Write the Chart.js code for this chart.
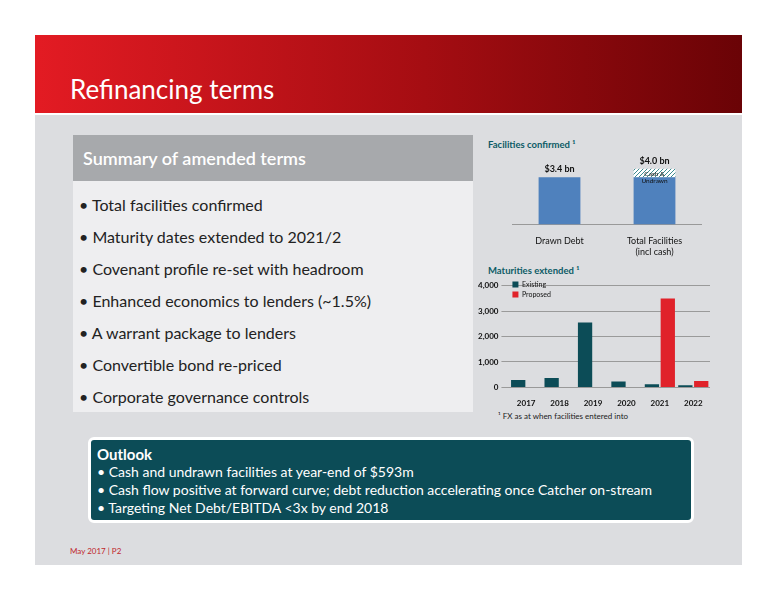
<!DOCTYPE html>
<html><head><meta charset="utf-8">
<script src="https://cdn.jsdelivr.net/npm/chart.js@4"></script>
<style>
body{margin:0;width:776px;height:600px;background:#fff;font-family:"Open Sans","Noto Sans",sans-serif;position:relative;overflow:hidden}
#hdr{position:absolute;left:35px;top:35px;width:707px;height:78px;background:linear-gradient(90deg,#e31b23,#a50d12 55%,#6a0306)}
#hdr h1{margin:0;position:absolute;left:35px;top:38px;color:#fff;font-weight:400;font-size:26px;font-family:Lato,"Open Sans",sans-serif}
#panel{position:absolute;left:35px;top:115px;width:707px;height:450px;background:#dcdde0}
#sum{position:absolute;left:73px;top:135px;width:400px;height:277px;background:#eeeef0}
#sumh{height:46px;background:#a7a9ac;color:#fff;font-size:18px;font-weight:600;line-height:46px;padding-left:10px;font-family:Lato,sans-serif}
#sum ul{margin:0;padding:10px 0 0 6px;list-style:none;font-size:16px;color:#222;font-family:Lato,sans-serif}
#sum li{height:32px;line-height:28px}
#out{position:absolute;left:88px;top:437px;width:594px;height:80px;background:#0c4c57;border:3px solid #fff;border-radius:6px;color:#fff;font-family:Lato,sans-serif;font-size:14px;padding-left:6px}
#out b{display:block;font-size:15px;margin-top:5px}
#out div{line-height:18px}
.t{position:absolute;font-family:Lato,sans-serif;font-size:9.5px;font-weight:700;color:#0c5b66}
#c1{position:absolute;left:512px;top:148px}
#c2{position:absolute;left:475px;top:278px}
#fn{position:absolute;left:498px;top:411px;font-size:8px;color:#222;font-family:Lato,sans-serif}
#ft{position:absolute;left:70px;top:546px;font-size:8px;color:#c0272d;font-family:Lato,sans-serif}
</style></head><body>
<div id="hdr"><h1>Refinancing terms</h1></div>
<div id="panel"></div>
<div id="sum"><div id="sumh">Summary of amended terms</div>
<ul>
<li>• Total facilities confirmed</li>
<li>• Maturity dates extended to 2021/2</li>
<li>• Covenant profile re-set with headroom</li>
<li>• Enhanced economics to lenders (~1.5%)</li>
<li>• A warrant package to lenders</li>
<li>• Convertible bond re-priced</li>
<li>• Corporate governance controls</li>
</ul></div>
<div class="t" style="left:488px;top:139px">Facilities confirmed ¹</div>
<div class="t" style="left:488px;top:265px">Maturities extended ¹</div>
<canvas id="c1" width="190" height="112"></canvas>
<canvas id="c2" width="235" height="133"></canvas>
<div id="fn">¹ FX as at when facilities entered into</div>
<div id="out"><b>Outlook</b>
<div>• Cash and undrawn facilities at year-end of $593m</div>
<div>• Cash flow positive at forward curve; debt reduction accelerating once Catcher on-stream</div>
<div>• Targeting Net Debt/EBITDA &lt;3x by end 2018</div></div>
<div id="ft">May 2017 | P2</div>
<script>
const facCats = [["Drawn Debt"], ["Total Facilities", "(incl cash)"]];
const facDebt = [3.4, 3.4];
const facCash = [0, 0.6];
const facLabels = ["$3.4 bn", "$4.0 bn"];

const years = ["2017", "2018", "2019", "2020", "2021", "2022"];
const existing = [290, 370, 2560, 230, 120, 80];
const proposed = [0, 0, 0, 0, 3500, 250];

const pc = document.createElement("canvas");
pc.width = 4; pc.height = 4;
const px = pc.getContext("2d");
px.fillStyle = "#fff"; px.fillRect(0, 0, 4, 4);
px.strokeStyle = "#3d8a8f"; px.lineWidth = 1;
px.beginPath(); px.moveTo(0, 4); px.lineTo(4, 0); px.moveTo(-1, 1); px.lineTo(1, -1); px.moveTo(3, 5); px.lineTo(5, 3); px.stroke();
const hatch = px.createPattern(pc, "repeat");

const labelPlugin = {
    id: "lbl",
    afterDatasetsDraw(chart) {
        const ctx = chart.ctx;
        const meta = chart.getDatasetMeta(1);
        ctx.save();
        ctx.fillStyle = "#111";
        ctx.font = "bold 9px Lato";
        ctx.textAlign = "center";
        meta.data.forEach((bar, i) => {
            ctx.fillText(facLabels[i], bar.x, bar.y - 5);
        });
        const b = meta.data[1];
        ctx.font = "6.5px Lato";
        ctx.fillText("Cash &", b.x, b.y + 7);
        ctx.fillText("Undrawn", b.x, b.y + 14);
        ctx.restore();
    }
};

new Chart(document.getElementById("c1"), {
    type: "bar",
    data: {
        labels: facCats,
        datasets: [
            { data: facDebt, backgroundColor: "#4f81bd", barPercentage: 0.55, categoryPercentage: 0.8 },
            { data: facCash, backgroundColor: hatch, barPercentage: 0.55, categoryPercentage: 0.8 }
        ]
    },
    options: {
        responsive: false, animation: false,
        layout: { padding: 0 },
        plugins: { legend: { display: false }, tooltip: { enabled: false } },
        scales: {
            x: { stacked: true, grid: { display: false }, border: { color: "#999" },
                 ticks: { color: "#111", font: { size: 9, family: "Lato" } } },
            y: { stacked: true, display: false, min: 0, max: 5.5 }
        }
    },
    plugins: [labelPlugin]
});

new Chart(document.getElementById("c2"), {
    type: "bar",
    data: {
        labels: years,
        datasets: [
            { label: "Existing", data: existing, backgroundColor: "#0c4c57", barPercentage: 0.9, categoryPercentage: 0.95 },
            { label: "Proposed", data: proposed, backgroundColor: "#e0222a", barPercentage: 0.9, categoryPercentage: 0.95 }
        ]
    },
    options: {
        responsive: false, animation: false,
        plugins: {
            legend: { position: "chartArea", align: "start",
                labels: { boxWidth: 6, boxHeight: 6, padding: 3, color: "#111", font: { size: 7, family: "Lato" } } },
            tooltip: { enabled: false }
        },
        scales: {
            x: { grid: { display: false }, border: { color: "#999" },
                 ticks: { color: "#111", font: { size: 8, weight: "bold", family: "Lato" } } },
            y: { min: 0, max: 4000, ticks: { stepSize: 1000, color: "#111", font: { size: 8, weight: "bold", family: "Lato" },
                 callback: v => v.toLocaleString("en-US") },
                 grid: { color: "#9a9a9a" }, border: { display: false } }
        }
    }
});
</script>
</body></html>
